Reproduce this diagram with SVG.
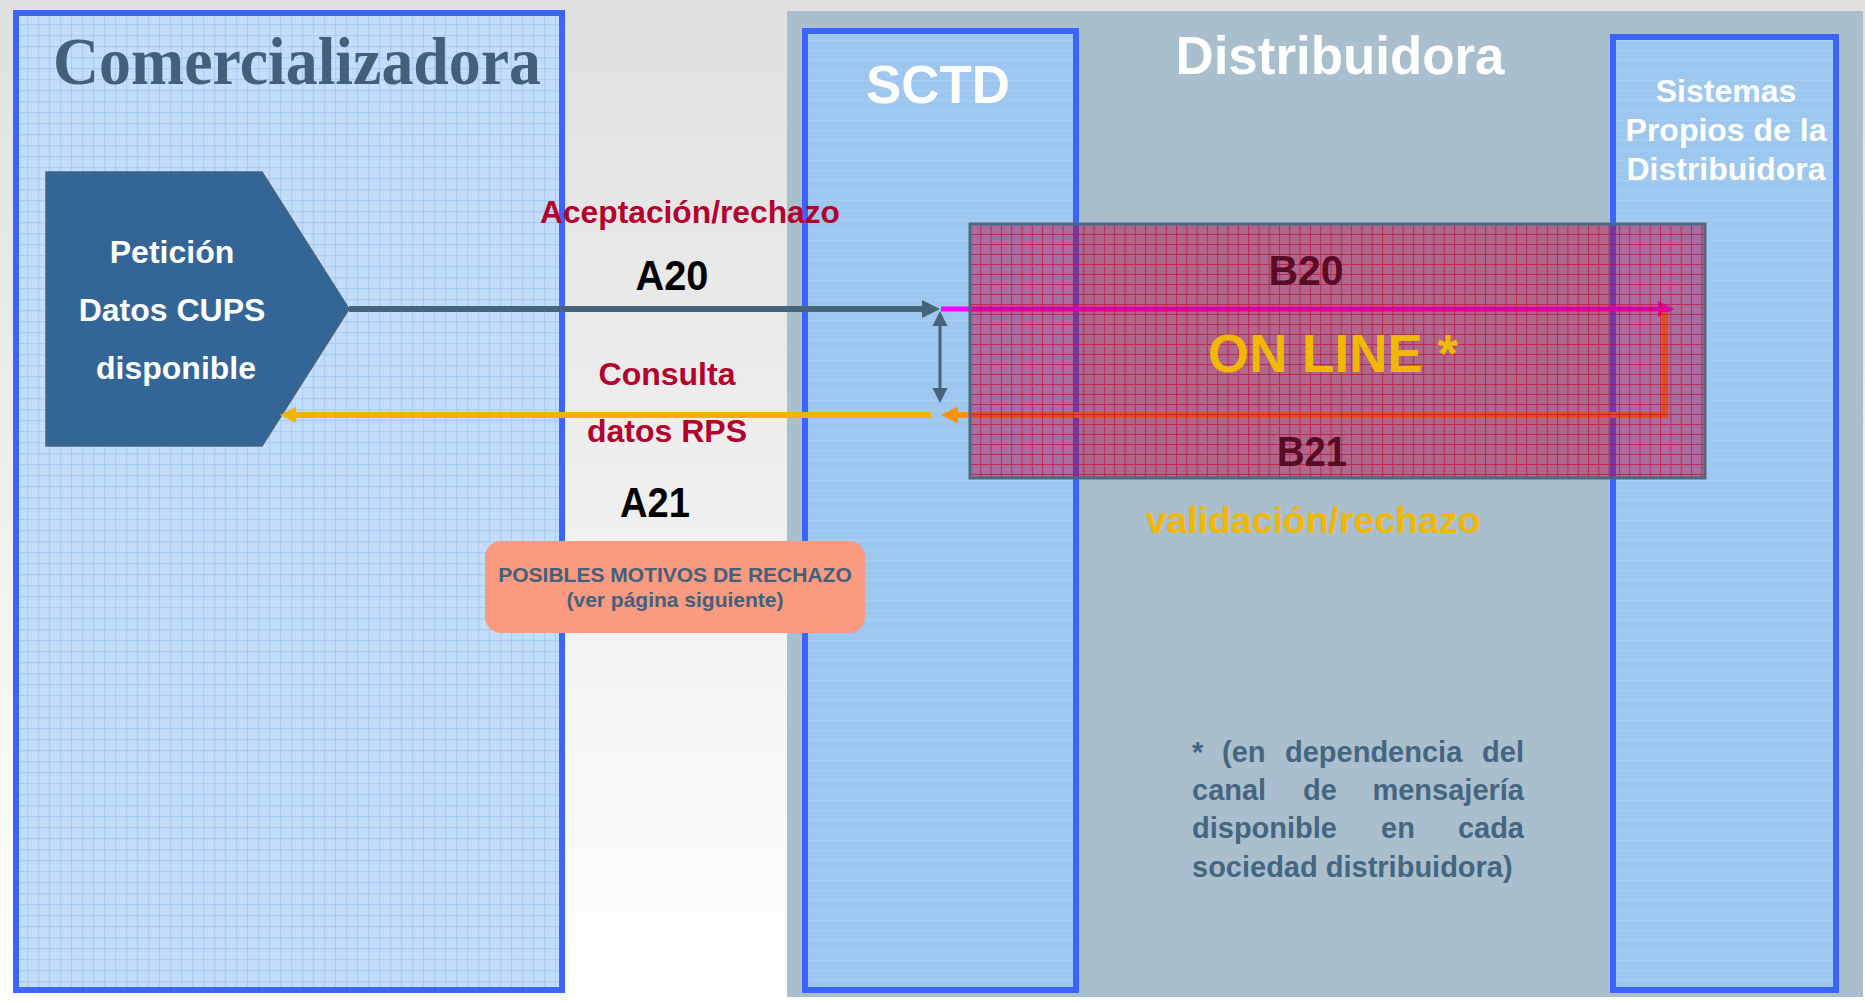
<svg xmlns="http://www.w3.org/2000/svg" width="1865" height="1002" viewBox="0 0 1865 1002">
<defs>
<style>
.sans{font-family:"Liberation Sans",Arial,sans-serif;font-weight:bold}
.serif{font-family:"Liberation Serif","Times New Roman",serif;font-weight:bold}
.col{stroke:#3a66ff;stroke-width:6}
.white{fill:#ffffff}
.crimson{fill:#b3002d}
.black{fill:#000000}
.gold{fill:#f0b800}
.maroon{fill:#5a0b25}
.slate{fill:#44607a}
.note{fill:#456680;font-size:29px}
.mid{text-anchor:middle}
.end{text-anchor:end}
</style>
<linearGradient id="bg" x1="0" y1="0" x2="0" y2="1">
<stop offset="0" stop-color="#e0e0e0"/>
<stop offset="0.55" stop-color="#f1f1f1"/>
<stop offset="1" stop-color="#ffffff"/>
</linearGradient>
<pattern id="bluegrid" patternUnits="userSpaceOnUse" x="16" y="13" width="11" height="11">
<rect width="11" height="11" fill="#c4ddfa"/>
<path d="M0,0.5 H11 M0.5,0 V11" stroke="#aacdf6" stroke-width="1.3" fill="none"/>
</pattern>
<pattern id="colstripe" patternUnits="userSpaceOnUse" width="10" height="10">
<rect width="10" height="10" fill="#9ec7ef"/>
<path d="M0,0.5 H10" stroke="#a6cdf2" stroke-width="1" fill="none"/>
</pattern>
<pattern id="redgrid" patternUnits="userSpaceOnUse" x="970" y="224" width="10.3" height="10">
<path d="M0,0.5 H10.3 M0.5,0 V10" stroke="#c8103c" stroke-opacity="0.75" stroke-width="1" fill="none"/>
</pattern>
<marker id="mSlate" viewBox="0 0 10 10" refX="0" refY="5" markerUnits="userSpaceOnUse" markerWidth="18" markerHeight="18" orient="auto-start-reverse">
<path d="M0,0 L10,5 L0,10 z" fill="#45637a"/>
</marker>
<marker id="mSlateS" viewBox="0 0 10 10" refX="0" refY="5" markerUnits="userSpaceOnUse" markerWidth="15" markerHeight="16" orient="auto-start-reverse">
<path d="M0,0 L10,5 L0,10 z" fill="#45637a"/>
</marker>
<marker id="mYellow" viewBox="0 0 10 10" refX="0" refY="5" markerUnits="userSpaceOnUse" markerWidth="16" markerHeight="17" orient="auto">
<path d="M0,0 L10,5 L0,10 z" fill="#f0b400"/>
</marker>
<marker id="mOrange" viewBox="0 0 10 10" refX="0" refY="5" markerUnits="userSpaceOnUse" markerWidth="18" markerHeight="17" orient="auto">
<path d="M0,0 L10,5 L0,10 z" fill="#ff9200"/>
</marker>
<marker id="mMagenta" viewBox="0 0 10 10" refX="0" refY="5" markerUnits="userSpaceOnUse" markerWidth="17" markerHeight="16" orient="auto">
<path d="M0,0 L10,5 L0,10 z" fill="#ff00ff"/>
</marker>
</defs>

<rect x="0" y="0" width="1865" height="1002" fill="url(#bg)"/>

<g id="distribuidora">
<rect x="787" y="11" width="1076" height="986" fill="#a9bfcd"/>
<text class="sans white mid" x="1340" y="74" font-size="54" textLength="329" lengthAdjust="spacingAndGlyphs">Distribuidora</text>
</g>

<g id="comercializadora">
<rect class="col" x="16" y="13" width="546" height="977" fill="url(#bluegrid)"/>
<text class="serif mid" x="297" y="84" font-size="67" fill="#426079" textLength="488" lengthAdjust="spacingAndGlyphs">Comercializadora</text>
</g>

<g id="sctd">
<rect class="col" x="805" y="31" width="271" height="959" fill="url(#colstripe)"/>
<text class="sans white mid" x="938" y="103" font-size="53" textLength="144" lengthAdjust="spacingAndGlyphs">SCTD</text>
</g>

<g id="sistemas">
<rect class="col" x="1613" y="37" width="223" height="953" fill="url(#colstripe)"/>
<text class="sans white mid" x="1726" y="102" font-size="32">Sistemas</text>
<text class="sans white mid" x="1726" y="141" font-size="32">Propios de la</text>
<text class="sans white mid" x="1726" y="180" font-size="32">Distribuidora</text>
</g>

<g id="peticion">
<path d="M46,172 H262 L349,309 L262,446 H46 Z" fill="#336696" stroke="#45637a" stroke-width="1.5"/>
<text class="sans white mid" x="172" y="263" font-size="32">Petición</text>
<text class="sans white mid" x="172" y="321" font-size="32">Datos CUPS</text>
<text class="sans white mid" x="176" y="379" font-size="32">disponible</text>
</g>

<g id="connectors" fill="none">
<path d="M349,309 H922" stroke="#45637a" stroke-width="6" marker-end="url(#mSlate)"/>
<path d="M940,326 V388" stroke="#45637a" stroke-width="3" marker-start="url(#mSlateS)" marker-end="url(#mSlateS)"/>
<path d="M931,415 H296" stroke="#f0b400" stroke-width="6" marker-end="url(#mYellow)"/>
<path d="M941,309 H1658" stroke="#ff00ff" stroke-width="5" marker-end="url(#mMagenta)"/>
<path d="M1665,312 V415 H958" stroke="#ff9200" stroke-width="6" stroke-linejoin="miter" marker-end="url(#mOrange)"/>
</g>

<g id="online">
<rect x="970" y="224" width="735" height="254" fill="#b8003f" fill-opacity="0.46"/>
<rect x="970" y="224" width="735" height="254" fill="url(#redgrid)" stroke="#4a6a80" stroke-width="3"/>
<text class="sans maroon mid" x="1306" y="285" font-size="42" textLength="75" lengthAdjust="spacingAndGlyphs">B20</text>
<text class="sans gold mid" x="1333" y="372" font-size="53" textLength="250" lengthAdjust="spacingAndGlyphs">ON LINE *</text>
<text class="sans maroon mid" x="1312" y="466" font-size="42" textLength="70" lengthAdjust="spacingAndGlyphs">B21</text>
</g>

<g id="labels">
<text class="sans crimson mid" x="690" y="223" font-size="31" textLength="300" lengthAdjust="spacingAndGlyphs">Aceptación/rechazo</text>
<text class="sans black mid" x="672" y="290" font-size="42" textLength="73" lengthAdjust="spacingAndGlyphs">A20</text>
<text class="sans crimson mid" x="667" y="385" font-size="32">Consulta</text>
<text class="sans crimson mid" x="667" y="442" font-size="32">datos RPS</text>
<text class="sans black mid" x="655" y="517" font-size="42" textLength="70" lengthAdjust="spacingAndGlyphs">A21</text>
<text class="sans gold mid" x="1313" y="533" font-size="36" textLength="335" lengthAdjust="spacingAndGlyphs">validación/rechazo</text>
</g>

<g id="motivos">
<rect x="485" y="541" width="380" height="92" rx="16" fill="#fa9a80"/>
<text class="sans slate mid" x="675" y="582" font-size="21">POSIBLES MOTIVOS DE RECHAZO</text>
<text class="sans slate mid" x="675" y="607" font-size="21">(ver página siguiente)</text>
</g>

<g id="nota" class="sans note">
<text x="1192" y="762">*</text>
<text x="1222" y="762">(en</text>
<text x="1285" y="762">dependencia</text>
<text class="end" x="1524" y="762">del</text>
<text x="1192" y="800">canal</text>
<text x="1303" y="800">de</text>
<text class="end" x="1524" y="800">mensajería</text>
<text x="1192" y="838">disponible</text>
<text x="1381" y="838">en</text>
<text class="end" x="1524" y="838">cada</text>
<text x="1192" y="877">sociedad distribuidora)</text>
</g>
</svg>
